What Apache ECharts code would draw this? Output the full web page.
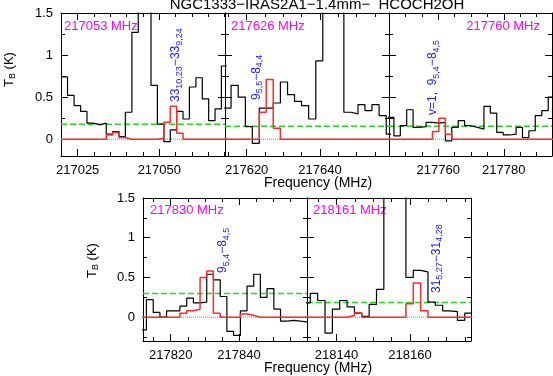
<!DOCTYPE html>
<html>
<head>
<meta charset="utf-8">
<script src="https://cdn.jsdelivr.net/npm/echarts@6/dist/echarts.min.js"></script>
<style>
  html, body { margin: 0; padding: 0; background: #fff; }
  #chart { width: 553px; height: 376px; }
</style>
</head>
<body>
<div id="chart"></div>
<script>
// HCOCH2OH towards NGC1333-IRAS2A1 : observed spectrum (black) + LTE model (red)
var freq1 = [217020.9, 217022.9, 217024.9, 217026.9, 217028.8, 217030.8, 217032.8, 217034.7, 217036.7, 217038.6, 217040.6, 217042.6, 217044.5, 217046.5, 217048.4, 217050.4, 217052.4, 217054.3, 217056.3, 217058.2, 217060.2, 217062.2, 217064.1, 217066.1, 217068.0, 217070.0];
var obs1 = [0.74, 0.52, 0.40, 0.33, 0.19, 0.17, 0.19, 0.06, 0.09, 0.03, 0.32, 1.27, 1.90, 1.90, 0.64, 0.18, -0.03, 0.11, 0.33, 0.24, 0.62, 0.73, 0.48, 0.22, 0.36, 0.87];
var mod1 = [0, 0, 0, 0, 0, 0, 0, 0.05, 0.08, 0.02, 0, 0, 0, 0, 0, 0.01, 0.20, 0.39, 0.07, 0, 0, 0, 0, 0, 0, 0];

var freq2 = [217614.8, 217616.7, 217618.7, 217620.6, 217622.5, 217624.4, 217626.3, 217628.2, 217630.2, 217632.1, 217634.0, 217635.9, 217637.9, 217639.8, 217641.7, 217643.6, 217645.5, 217647.5, 217649.4, 217651.3, 217653.2, 217655.1, 217657.1, 217659.0];
var obs2 = [0.37, 0.64, 0.50, 0.15, -0.05, 0.37, 0.37, 0.43, 0.68, 0.53, 0.45, 0.40, 0.24, 0.93, 1.90, 1.90, 1.90, 0.32, 0.30, 0.41, 0.34, 0.41, 0.28, 0.06];
var mod2 = [0, 0, 0, 0, 0, 0.32, 0.71, 0.13, 0, 0, 0, 0, 0, 0, 0, 0, 0, 0, 0, 0, 0, 0, 0, 0];

var freq3 = [217745.5, 217747.5, 217749.4, 217751.4, 217753.3, 217755.3, 217757.3, 217759.2, 217761.2, 217763.2, 217765.1, 217767.1, 217769.0, 217771.0, 217773.0, 217774.9, 217776.9, 217778.8, 217780.8, 217782.8, 217784.7, 217786.7, 217788.6, 217790.6, 217792.6, 217794.5];
var obs3 = [0.26, 0.04, 0.16, 0.35, 0.14, 0.15, 0.20, 0.19, 0.20, -0.02, 0.14, 0.22, 0.16, 0.14, 0.12, 0.39, 0.31, 0.08, 0.05, 0.06, 0.14, 0.02, 0.10, 0.28, 0.34, 0.50];
var mod3 = [0, 0, 0, 0, 0, 0, 0, 0.09, 0.25, 0.06, 0, 0, 0, 0, 0, 0, 0, 0, 0, 0, 0, 0, 0, 0, 0, 0];

var freq4 = [217811.9, 217813.9, 217815.9, 217817.8, 217819.8, 217821.7, 217823.7, 217825.7, 217827.6, 217829.6, 217831.5, 217833.5, 217835.5, 217837.4, 217839.4, 217841.4, 217843.3, 217845.3, 217847.2, 217849.2, 217851.2, 217853.1, 217855.1, 217857.0, 217859.0];
var obs4 = [-0.16, 0.22, 0.06, 0.00, 0.08, 0.08, 0.14, 0.24, 0.18, 0.19, 0.54, 0.47, 0.26, -0.18, -0.23, 0.08, 0.39, 0.54, 0.25, 0.36, 0.10, -0.05, -0.04, -0.05, -0.06];
var mod4 = [0, 0, 0, 0, 0, 0, 0.05, 0.08, 0.10, 0.50, 0.58, 0.05, 0, 0, 0, 0.04, 0.025, 0, 0, 0, 0, 0, 0, 0, 0];

var freq5 = [218131.9, 218133.9, 218135.9, 218137.9, 218139.9, 218141.9, 218143.9, 218145.9, 218147.9, 218149.9, 218151.9, 218153.9, 218155.9, 218157.9, 218159.9, 218161.9, 218163.9, 218165.9, 218167.9, 218169.9, 218171.9, 218173.9, 218175.9];
var obs5 = [0.18, 0.30, 0.21, -0.20, 0.10, 0.21, 0.13, 0.05, 0.01, 0.16, 0.35, 1.90, 1.90, 1.90, 0.50, 0.59, 0.57, 0.19, 0.15, 0.08, 0.07, -0.04, 0.05];
var mod5 = [0, 0, 0, 0, 0, 0, 0.02, 0.055, 0, 0, 0, 0, 0, 0, 0.17, 0.43, 0.08, 0, 0, 0, 0, 0, 0];

// 3 sigma level (green dashed) per panel
var rms3 = [0.177, 0.155, 0.155, 0.297, 0.184];

var xRange1 = [217019.9, 217070.1];
var xRange2 = [217614.1, 217658.8];
var xRange3 = [217745.0, 217794.7];
var xRange4 = [217811.9, 217859.9];
var xRange5 = [218132.0, 218176.6];
var yRangeTop = [-0.2, 1.5];
var yRangeBottom = [-0.3, 1.5];

var xMajor1 = [217025, 217050];
var xMinor1 = [217020, 217030, 217035, 217040, 217045, 217055, 217060, 217065, 217070];
var xMajor2 = [217620, 217640];
var xMinor2 = [217615, 217625, 217630, 217635, 217645, 217650, 217655];
var xMajor3 = [217760, 217780];
var xMinor3 = [217750, 217755, 217765, 217770, 217775, 217785, 217790];
var xMajor4 = [217820, 217840];
var xMinor4 = [217815, 217825, 217830, 217835, 217845, 217850, 217855];
var xMajor5 = [218140, 218160];
var xMinor5 = [218135, 218145, 218150, 218155, 218165, 218170, 218175];
var yMajor = [0, 0.5, 1, 1.5];
var yMinorTop = [0.25, 0.75, 1.25];
var yMinorBottom = [-0.25, 0.25, 0.75, 1.25];

var panelNames = ['217053 MHz', '217626 MHz', '217760 MHz', '217830 MHz', '218161 MHz'];
var lineTags = [
  '{m|33}{s|10,23}{m|\u221233}{s|9,24}',
  '{m|9}{s|5,5}{m|\u22128}{s|4,4}',
  '{m|v=1,  9}{s|5,4}{m|\u22128}{s|4,5}',
  '{m|9}{s|5,4}{m|\u22128}{s|4,5}',
  '{m|31}{s|5,27}{m|\u221231}{s|4,28}'
];
var titleText = 'NGC1333\u2212IRAS2A1\u22121.4mm\u2212  HCOCH2OH';

(function () {
  var font = "'Liberation Sans', Arial, sans-serif";
  var chart = echarts.init(document.getElementById('chart'), null, { renderer: 'canvas' });

  var panels = [
    { f: freq1, obs: obs1, mod: mod1, xr: xRange1, yr: yRangeTop, xMaj: xMajor1, xMin: xMinor1, yMin: yMinorTop },
    { f: freq2, obs: obs2, mod: mod2, xr: xRange2, yr: yRangeTop, xMaj: xMajor2, xMin: xMinor2, yMin: yMinorTop },
    { f: freq3, obs: obs3, mod: mod3, xr: xRange3, yr: yRangeTop, xMaj: xMajor3, xMin: xMinor3, yMin: yMinorTop },
    { f: freq4, obs: obs4, mod: mod4, xr: xRange4, yr: yRangeBottom, xMaj: xMajor4, xMin: xMinor4, yMin: yMinorBottom },
    { f: freq5, obs: obs5, mod: mod5, xr: xRange5, yr: yRangeBottom, xMaj: xMajor5, xMin: xMinor5, yMin: yMinorBottom }
  ];
  var layout = [
    { left: 61, top: 13, width: 164, height: 143 },
    { left: 225, top: 13, width: 164, height: 143 },
    { left: 389, top: 13, width: 163, height: 143 },
    { left: 143, top: 198, width: 164, height: 143 },
    { left: 307, top: 198, width: 164, height: 143 }
  ];
  var showYLabels = [true, false, false, true, false];

  // histogram: each channel is a flat step between the mid points of its neighbours
  function histo(f, v) {
    var pts = [];
    for (var i = 0; i < f.length; i++) {
      var lo = i > 0 ? (f[i - 1] + f[i]) / 2 : f[0] - (f[1] - f[0]) / 2;
      var hi = i < f.length - 1 ? (f[i] + f[i + 1]) / 2 : f[i] + (f[i] - f[i - 1]) / 2;
      pts.push([lo, v[i]], [hi, v[i]]);
    }
    return pts;
  }
  // horizontal level across the whole panel
  function level(xr, y) { return [[xr[0], y], [xr[1], y]]; }

  var axisLine = { show: true, onZero: false, lineStyle: { color: '#000', width: 1 } };
  var noLine = { show: false, onZero: false };
  var lblStyle = { color: '#000', fontSize: 13, fontFamily: font };

  var grids = [], xAxes = [], yAxes = [], series = [];
  panels.forEach(function (p, i) {
    grids.push({ left: layout[i].left, top: layout[i].top, width: layout[i].width, height: layout[i].height, containLabel: false, outerBoundsMode: 'none' });
    var xBase = { type: 'value', gridIndex: i, min: p.xr[0], max: p.xr[1], splitLine: { show: false } };
    var yBase = { type: 'value', gridIndex: i, min: p.yr[0], max: p.yr[1], splitLine: { show: false } };
    // main x axes (frame + major ticks), then minor tick overlays
    xAxes.push(Object.assign({}, xBase, { position: 'bottom', axisLine: axisLine,
      axisTick: { inside: true, length: 7, customValues: p.xMaj, lineStyle: { color: '#000' } },
      axisLabel: Object.assign({ customValues: p.xMaj, margin: 8, formatter: function (v) { return String(v); } }, lblStyle) }));
    xAxes.push(Object.assign({}, xBase, { position: 'top', axisLine: axisLine,
      axisTick: { inside: true, length: 7, customValues: p.xMaj, lineStyle: { color: '#000' } }, axisLabel: { show: false } }));
    xAxes.push(Object.assign({}, xBase, { position: 'bottom', axisLine: noLine,
      axisTick: { inside: true, length: 4, customValues: p.xMin, lineStyle: { color: '#000' } }, axisLabel: { show: false } }));
    xAxes.push(Object.assign({}, xBase, { position: 'top', axisLine: noLine,
      axisTick: { inside: true, length: 4, customValues: p.xMin, lineStyle: { color: '#000' } }, axisLabel: { show: false } }));

    yAxes.push(Object.assign({}, yBase, { position: 'left', axisLine: axisLine,
      axisTick: { inside: true, length: 7, customValues: yMajor, lineStyle: { color: '#000' } },
      axisLabel: Object.assign({ show: showYLabels[i], customValues: yMajor, margin: 8 }, lblStyle) }));
    yAxes.push(Object.assign({}, yBase, { position: 'right', axisLine: axisLine,
      axisTick: { inside: true, length: 7, customValues: yMajor, lineStyle: { color: '#000' } }, axisLabel: { show: false } }));
    yAxes.push(Object.assign({}, yBase, { position: 'left', axisLine: noLine,
      axisTick: { inside: true, length: 4, customValues: p.yMin, lineStyle: { color: '#000' } }, axisLabel: { show: false } }));
    yAxes.push(Object.assign({}, yBase, { position: 'right', axisLine: noLine,
      axisTick: { inside: true, length: 4, customValues: p.yMin, lineStyle: { color: '#000' } }, axisLabel: { show: false } }));

    var common = { type: 'line', xAxisIndex: 4 * i, yAxisIndex: 4 * i, symbol: 'none', clip: true, silent: true };
    // dotted zero line (hidden under the model where it is zero)
    series.push(Object.assign({}, common, { data: level(p.xr, 0), z: 1,
      lineStyle: { type: 'dotted', color: '#8a8a8a', width: 1 } }));
    // green 3 sigma level
    series.push(Object.assign({}, common, { data: level(p.xr, rms3[i]), z: 1,
      lineStyle: { type: [6, 3], color: '#22d822', width: 1.5 } }));
    // observed spectrum
    series.push(Object.assign({}, common, { data: histo(p.f, p.obs), z: 2,
      lineStyle: { color: '#000', width: 1.2 } }));
    // model
    series.push(Object.assign({}, common, { data: histo(p.f, p.mod), z: 3,
      lineStyle: { color: '#ff2a2a', width: 1.5 } }));
  });

  // texts
  var graphic = [];
  graphic.push({ type: 'text', x: 317, y: 5, silent: true,
    style: { text: titleText, fontSize: 15, fontFamily: font, fill: '#000', align: 'center', verticalAlign: 'middle' } });
  var nameSpots = [
    { x: 64, y: 26, align: 'left' }, { x: 231, y: 26, align: 'left' }, { x: 540, y: 26, align: 'right' },
    { x: 150, y: 210, align: 'left' }, { x: 313, y: 210, align: 'left' }
  ];
  panelNames.forEach(function (t, i) {
    graphic.push({ type: 'text', x: nameSpots[i].x, y: nameSpots[i].y, silent: true,
      style: { text: t, fontSize: 13, fontFamily: font, fill: '#ff00ff', align: nameSpots[i].align, verticalAlign: 'middle' } });
  });
  var tagSpots = [{ x: 176, y: 102 }, { x: 256.5, y: 100 }, { x: 433, y: 115 }, { x: 223, y: 273 }, { x: 436.5, y: 293 }];
  var tagRich = {
    m: { fontSize: 12, fontFamily: font, fill: '#1a1aff' },
    s: { fontSize: 9, fontFamily: font, fill: '#1a1aff', padding: [7, 0, 0, 0] }
  };
  lineTags.forEach(function (t, i) {
    graphic.push({ type: 'text', x: tagSpots[i].x, y: tagSpots[i].y, rotation: Math.PI / 2, silent: true,
      style: { text: t, align: 'left', verticalAlign: 'middle', rich: tagRich } });
  });
  var axRich = {
    m: { fontSize: 13, fontFamily: font, fill: '#000' },
    s: { fontSize: 9, fontFamily: font, fill: '#000', padding: [7, 0, 0, 0] }
  };
  [{ x: 9.5, y: 87 }, { x: 92, y: 278 }].forEach(function (s) {
    graphic.push({ type: 'text', x: s.x, y: s.y, rotation: Math.PI / 2, silent: true,
      style: { text: '{m|T}{s|B}{m| (K)}', align: 'left', verticalAlign: 'middle', rich: axRich } });
  });
  [183, 368].forEach(function (y) {
    graphic.push({ type: 'text', x: 318, y: y, silent: true,
      style: { text: 'Frequency (MHz)', fontSize: 14, fontFamily: font, fill: '#000', align: 'center', verticalAlign: 'middle' } });
  });

  chart.setOption({
    animation: false,
    backgroundColor: '#fff',
    grid: grids,
    xAxis: xAxes,
    yAxis: yAxes,
    series: series,
    graphic: graphic
  });
  window.addEventListener('resize', function () { chart.resize(); });
})();
</script>
</body>
</html>
